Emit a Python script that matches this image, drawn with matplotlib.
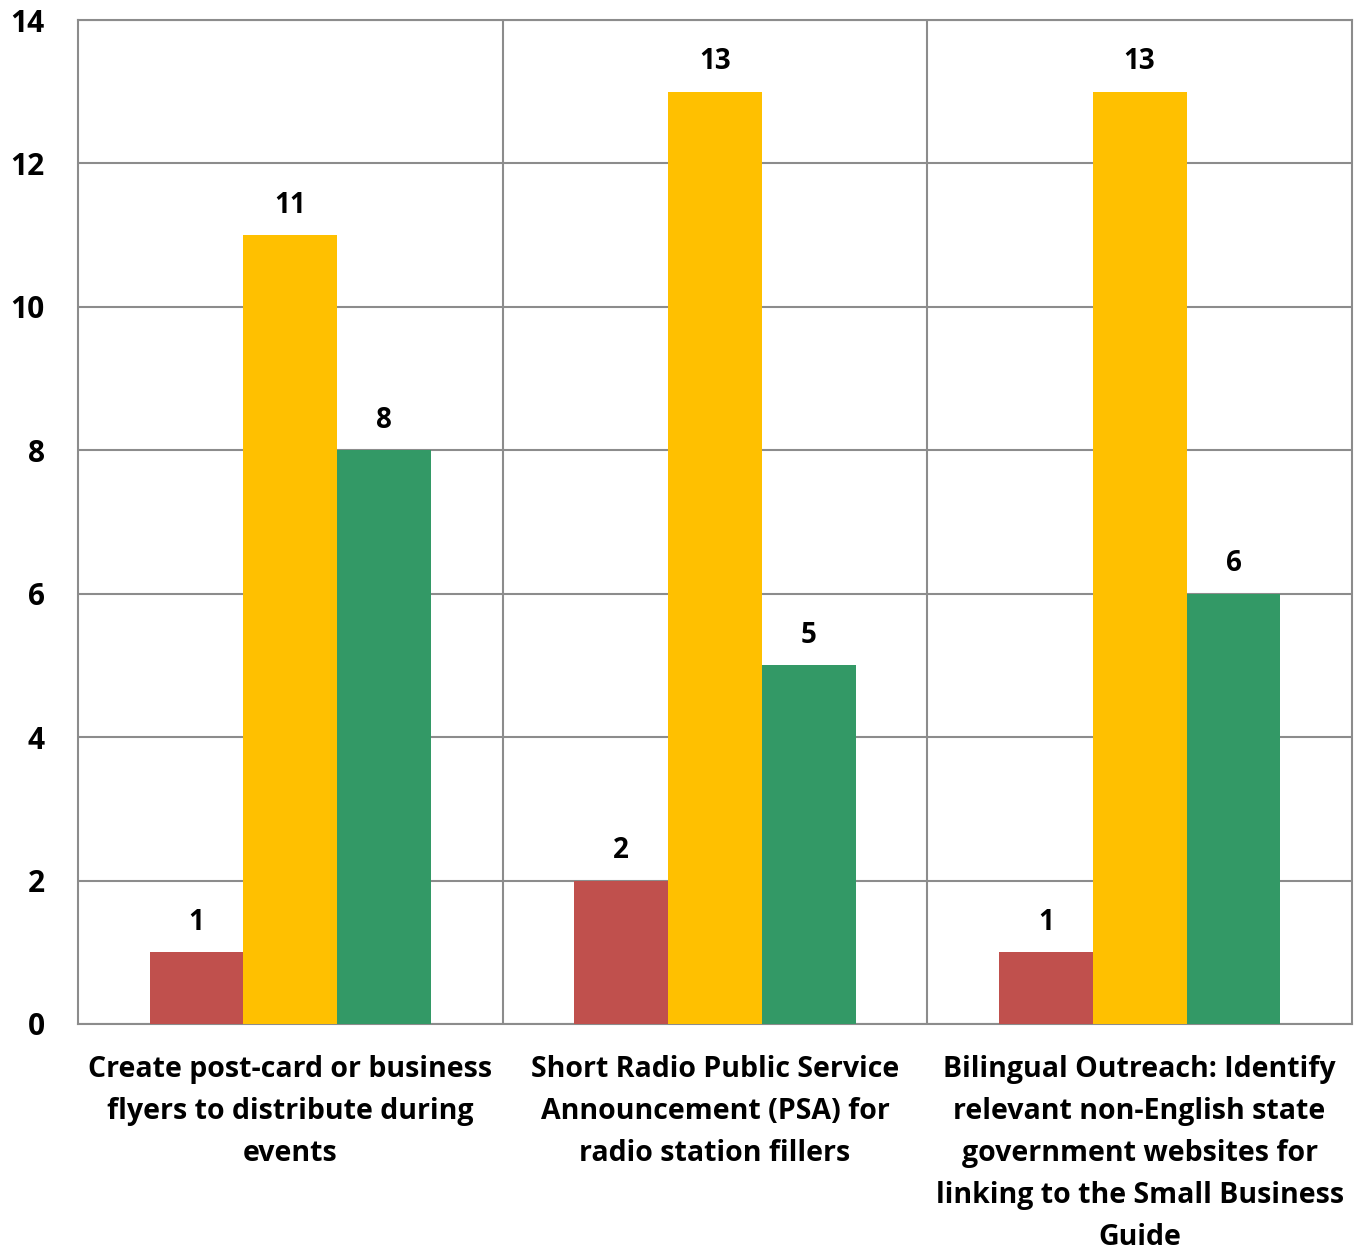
import matplotlib.pyplot as plt
import numpy as np

categories = [
    "Create post-card or business\nflyers to distribute during\nevents",
    "Short Radio Public Service\nAnnouncement (PSA) for\nradio station fillers",
    "Bilingual Outreach: Identify\nrelevant non-English state\ngovernment websites for\nlinking to the Small Business\nGuide",
]
red_vals = [1, 2, 1]
yellow_vals = [11, 13, 13]
green_vals = [8, 5, 6]
colors = ["#C0504D", "#FFC000", "#339966"]

plt.rcParams["font.family"] = ["Open Sans", "DejaVu Sans"]
plt.rcParams["font.weight"] = "bold"

fig = plt.figure(figsize=(13.56, 12.53), dpi=100)
ax = fig.add_axes([0.0575, 0.1828, 0.9395, 0.8012])

x = np.arange(len(categories))
w = 0.221
for i, (vals, c) in enumerate(zip([red_vals, yellow_vals, green_vals], colors)):
    bars = ax.bar(x + (i - 1) * w, vals, w, color=c, zorder=3)
    for b, v in zip(bars, vals):
        ax.annotate(str(v), (b.get_x() + b.get_width() / 2, v),
                    xytext=(0, 11), textcoords="offset points",
                    ha="center", va="bottom", fontsize=20, fontweight="bold")

ax.set_xlim(-0.5, 2.5)
ax.set_ylim(0, 14)
ax.set_yticks(range(0, 15, 2))
ax.yaxis.grid(True, color="#8c8c8c", linewidth=1.5, zorder=0)
for xv in [0.5, 1.5]:
    ax.axvline(xv, color="#8c8c8c", linewidth=1.5, zorder=0)
ax.set_xticks(x)
ax.set_xticklabels(categories, fontsize=20.5, fontweight="bold", linespacing=1.6)
ax.tick_params(axis="both", length=0)
ax.tick_params(axis="y", pad=24, labelsize=21.5)
ax.tick_params(axis="x", pad=22)
for s in ax.spines.values():
    s.set_color("#8c8c8c")
    s.set_linewidth(1.5)

fig.savefig("out.png", dpi=100)
